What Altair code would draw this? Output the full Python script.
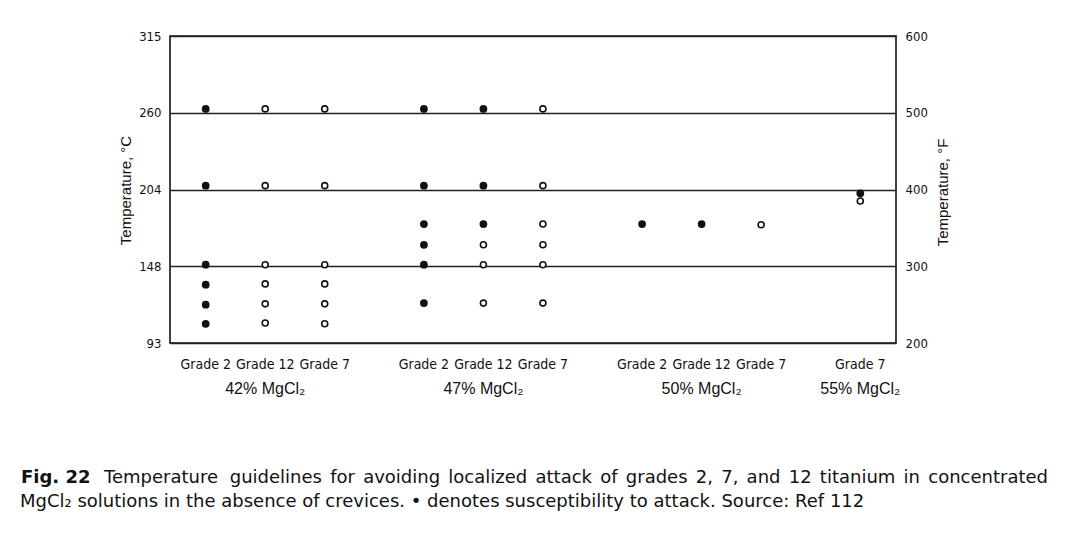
import altair as alt
import pandas as pd

# ---------------- data ----------------
groups = ["42% MgCl₂", "47% MgCl₂", "50% MgCl₂", "55% MgCl₂"]
group_grades = [
    ["Grade 2", "Grade 12", "Grade 7"],
    ["Grade 2", "Grade 12", "Grade 7"],
    ["Grade 2", "Grade 12", "Grade 7"],
    ["Grade 7"],
]
group_label_under = ["Grade 12", "Grade 12", "Grade 12", "Grade 7"]

point_group = (["42% MgCl₂"] * 18 + ["47% MgCl₂"] * 18 + ["50% MgCl₂"] * 3 + ["55% MgCl₂"] * 2)
point_grade = (
    ["Grade 2"] * 6 + ["Grade 12"] * 6 + ["Grade 7"] * 6
    + ["Grade 2"] * 6 + ["Grade 12"] * 6 + ["Grade 7"] * 6
    + ["Grade 2", "Grade 12", "Grade 7"]
    + ["Grade 7", "Grade 7"]
)
point_temp_F = [
    505, 405, 302, 276, 250, 225,
    505, 405, 302, 277, 251, 226,
    505, 405, 302, 277, 251, 225,
    505, 405, 355, 328, 302, 252,
    505, 405, 355, 328, 302, 252,
    505, 405, 355, 328, 302, 252,
    355, 355, 354,
    395, 385,
]
point_attacked = [
    1, 1, 1, 1, 1, 1,
    0, 0, 0, 0, 0, 0,
    0, 0, 0, 0, 0, 0,
    1, 1, 1, 1, 1, 1,
    1, 1, 1, 0, 0, 0,
    0, 0, 0, 0, 0, 0,
    1, 1, 0,
    1, 0,
]

f_ticks = [200, 300, 400, 500, 600]
c_labels = ["93", "148", "204", "260", "315"]

caption_bold = "Fig. 22"
caption_line1 = "Temperature guidelines for avoiding localized attack of grades 2, 7, and 12 titanium in concentrated"
caption_line2 = "MgCl₂ solutions in the absence of crevices. • denotes susceptibility to attack. Source: Ref 112"

# ---------------- build ----------------
domain = ["~start"]
grade_keys, grade_names = [], []
sp = 0
for gi, (g, grades) in enumerate(zip(groups, group_grades)):
    if gi > 0:
        for _ in range(4):
            domain.append(f"~{sp}")
            sp += 1
    for k, gr in enumerate(grades):
        if k > 0:
            for _ in range(2):
                domain.append(f"~{sp}")
                sp += 1
        domain.append(f"{g}|{gr}")
        grade_keys.append(f"{g}|{gr}")
        grade_names.append(gr)
domain.append("~end")

pts = pd.DataFrame({
    "group": point_group,
    "grade": point_grade,
    "tempF": point_temp_F,
    "attacked": point_attacked,
})
pts["key"] = pts["group"] + "|" + pts["grade"]

grp = pd.DataFrame({"label": groups})
grp["key"] = [f"{g}|{u}" for g, u in zip(groups, group_label_under)]

grade_df = pd.DataFrame({"key": grade_keys, "label": grade_names})

W, H = 726, 307
LEFT, TOP = 170, 36

xscale = alt.Scale(type="point", domain=domain, padding=0.8)
yscale = alt.Scale(domain=[200, 600], nice=False, zero=False)

c_expr = " : ".join(f"datum.value == {f} ? '{c}'" for f, c in zip(f_ticks, c_labels)) + " : ''"

cond_font = "DejaVu Sans Condensed"

left_axis = alt.Axis(
    orient="left", values=f_ticks, labelExpr=c_expr, ticks=False, domain=False,
    grid=True, gridColor="#222", gridWidth=1.3, gridOpacity=1,
    labelFont=cond_font, labelFontSize=13, labelColor="#111", labelPadding=9,
    title="Temperature, °C", titleFont="Liberation Sans", titleFontSize=15,
    titleFontWeight="normal", titleColor="#111", titleAngle=270,
    titleX=-45, titleY=154, titleAlign="center", titleBaseline="middle",
)
right_axis = alt.Axis(
    orient="right", values=f_ticks, ticks=False, domain=False, grid=False,
    labelFont=cond_font, labelFontSize=13, labelColor="#111", labelPadding=9,
    title="Temperature, °F", titleFont="Liberation Sans", titleFontSize=15,
    titleFontWeight="normal", titleColor="#111", titleAngle=270,
    titleX=46, titleY=156, titleAlign="center", titleBaseline="middle",
)

open_pts = alt.Chart(pts).transform_filter("datum.attacked == 0").mark_point(
    shape="circle", filled=False, fill="white", fillOpacity=1, stroke="#111",
    strokeWidth=1.6, size=36, opacity=1,
).encode(
    x=alt.X("key:N", scale=xscale, axis=None, sort=domain),
    y=alt.Y("tempF:Q", scale=yscale, axis=right_axis),
)

filled_pts = alt.Chart(pts).transform_filter("datum.attacked == 1").mark_point(
    shape="circle", filled=True, color="#111", size=60, opacity=1,
).encode(
    x=alt.X("key:N", scale=xscale, axis=None, sort=domain),
    y=alt.Y("tempF:Q", scale=yscale, axis=left_axis),
)

grade_text = alt.Chart(grade_df).mark_text(
    font=cond_font, fontSize=14, color="#111", align="center", baseline="middle",
).encode(
    x=alt.X("key:N", scale=xscale, axis=None, sort=domain),
    y=alt.value(365 - TOP),
    text="label:N",
)

group_text = alt.Chart(grp).mark_text(
    font="Liberation Sans", fontSize=16, color="#111", align="center", baseline="middle",
).encode(
    x=alt.X("key:N", scale=xscale, axis=None, sort=domain),
    y=alt.value(389 - TOP),
    text="label:N",
)

cap_font = "DejaVu Sans"
CAP = 18
BASE1 = 483 - TOP
BASE2 = 507 - TOP

# approximate DejaVu Sans advance widths (em) used to justify caption line 1
EM = {
    " ": .318, ",": .318, ".": .318, "0": .636, "1": .636, "2": .636, "7": .636,
    "a": .613, "c": .550, "d": .635, "e": .615, "f": .352, "g": .635, "i": .278,
    "k": .579, "l": .278, "m": .974, "n": .634, "o": .612, "p": .635, "r": .411,
    "s": .521, "t": .392, "u": .634, "v": .592, "z": .525, "T": .611,
}


def word_w(w):
    return sum(EM.get(ch, .6) for ch in w) * CAP


def cap_text(txt, x, align="left", weight="normal", base=BASE1):
    return alt.Chart(pd.DataFrame({"t": [txt]})).mark_text(
        font=cap_font, fontSize=CAP, fontWeight=weight, color="#111",
        align=align, baseline="alphabetic",
    ).encode(x=alt.value(x - LEFT), y=alt.value(base), text="t:N")


L1_START, L1_END = 104, 1048
words = caption_line1.split(" ")
widths = [word_w(w) for w in words]
gap = (L1_END - L1_START - sum(widths)) / (len(words) - 1)

caps = [cap_text(caption_bold, 21, weight="bold")]
xpos = L1_START
for i, (w, ww) in enumerate(zip(words, widths)):
    if i == len(words) - 1:
        caps.append(cap_text(w, L1_END, align="right"))
    else:
        caps.append(cap_text(w, xpos))
    xpos += ww + gap
caps.append(cap_text(caption_line2, 20, base=BASE2))

chart = alt.layer(open_pts, filled_pts, grade_text, group_text, *caps).resolve_axis(
    y="independent"
).properties(
    width=W, height=H,
    autosize=alt.AutoSizeParams(type="none"),
    padding={"left": LEFT, "top": TOP, "right": 1074 - LEFT - W, "bottom": 544 - TOP - H},
    background="white",
).configure_view(stroke="#111", strokeWidth=1.6)

chart.save("out.html", embed_options={"renderer": "svg", "actions": False})
